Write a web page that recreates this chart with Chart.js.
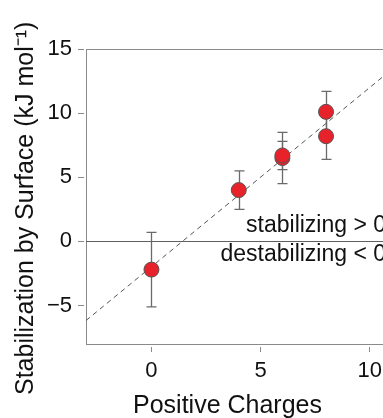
<!DOCTYPE html>
<html>
<head>
<meta charset="utf-8">
<script src="https://cdn.jsdelivr.net/npm/chart.js@4.4.1/dist/chart.umd.min.js"></script>
<style>
  html, body { margin: 0; padding: 0; background: #fff; overflow: hidden; }
  #wrap { width: 400px; height: 418px; }
</style>
</head>
<body>
<div id="wrap"><canvas id="stabChart" width="400" height="418"></canvas></div>
<script>
// Data
const chargeX = [0, 4, 6, 6, 8, 8];
const stabY = [-2.2, 4.0, 6.5, 6.7, 10.1, 8.2];
const stabErr = [2.9, 1.5, 2.0, 1.1, 1.6, 1.8];

// dashed linear fit, end points
const fitX = [-3, 11];
const fitY = [-6.17, 13.39];

const xTicks = [0, 5, 10];
const yTicks = [-5, 0, 5, 10, 15];

const FONT = '"Liberation Sans", Arial, Helvetica, sans-serif';
const axisGrey = '#8a8a8a';

// error bars, zero line, box top, titles and labels
const extrasPlugin = {
    id: 'extras',
    beforeDatasetsDraw(chart) {
        const { ctx, chartArea, scales: { x, y } } = chart;
        ctx.save();
        // zero line
        const y0 = Math.round(y.getPixelForValue(0)) + 0.5;
        ctx.strokeStyle = '#606060';
        ctx.lineWidth = 1;
        ctx.beginPath();
        ctx.moveTo(chartArea.left, y0);
        ctx.lineTo(chartArea.right, y0);
        ctx.stroke();
        // top of box
        ctx.strokeStyle = axisGrey;
        ctx.beginPath();
        ctx.moveTo(chartArea.left, chartArea.top + 0.5);
        ctx.lineTo(chartArea.right, chartArea.top + 0.5);
        ctx.stroke();
        // error bars
        ctx.strokeStyle = '#6a6a6a';
        ctx.lineWidth = 1.3;
        chargeX.forEach((cx, i) => {
            const px = Math.round(x.getPixelForValue(cx)) + 0.5;
            const top = y.getPixelForValue(stabY[i] + stabErr[i]);
            const bot = y.getPixelForValue(stabY[i] - stabErr[i]);
            ctx.beginPath();
            ctx.moveTo(px, top); ctx.lineTo(px, bot);
            ctx.moveTo(px - 5, top); ctx.lineTo(px + 5, top);
            ctx.moveTo(px - 5, bot); ctx.lineTo(px + 5, bot);
            ctx.stroke();
        });
        ctx.restore();
    },
    afterDraw(chart) {
        const { ctx, chartArea, scales: { x, y } } = chart;
        ctx.save();
        ctx.fillStyle = '#111';
        // region labels
        ctx.font = '23px ' + FONT;
        ctx.textAlign = 'right';
        ctx.textBaseline = 'alphabetic';
        const rx = x.getPixelForValue(10.75);
        ctx.fillText('stabilizing > 0', rx, y.getPixelForValue(0) - 9);
        ctx.fillText('destabilizing < 0', rx, y.getPixelForValue(0) + 20);
        // x title
        ctx.font = '25px ' + FONT;
        ctx.textAlign = 'left';
        ctx.fillText('Positive Charges', 133, 413);
        // y title
        ctx.translate(33, 395);
        ctx.rotate(-Math.PI / 2);
        ctx.fillText('Stabilization by Surface (kJ mol\u207B\u00B9)', 0, 0);
        ctx.restore();
    }
};

const ctx = document.getElementById('stabChart').getContext('2d');
new Chart(ctx, {
    type: 'scatter',
    data: {
        datasets: [
            {
                label: 'Stabilization',
                data: chargeX.map((cx, i) => ({ x: cx, y: stabY[i] })),
                backgroundColor: '#e8222a',
                borderColor: '#555',
                borderWidth: 1,
                pointRadius: 7.5,
                order: 1
            },
            {
                label: 'Fit',
                type: 'line',
                data: fitX.map((fx, i) => ({ x: fx, y: fitY[i] })),
                borderColor: '#555',
                borderWidth: 1,
                borderDash: [5, 4],
                pointRadius: 0,
                fill: false,
                order: 2
            }
        ]
    },
    options: {
        responsive: false,
        animation: false,
        layout: { padding: { left: 0, right: 6, top: 49, bottom: 0 } },
        plugins: {
            legend: { display: false },
            tooltip: { enabled: false }
        },
        scales: {
            x: {
                type: 'linear',
                min: -3,
                max: 11,
                afterBuildTicks: (s) => { s.ticks = xTicks.map(v => ({ value: v })); },
                afterFit: (s) => { s.height = 74; },
                border: { display: true, color: axisGrey, width: 1 },
                grid: {
                    display: true,
                    drawOnChartArea: false,
                    tickLength: 8,
                    tickColor: axisGrey,
                    tickBorderDash: [0, 2, 6, 20]
                },
                ticks: {
                    color: '#111',
                    font: { size: 22, family: FONT },
                    padding: 6,
                    maxRotation: 0
                }
            },
            y: {
                type: 'linear',
                min: -8,
                max: 15,
                afterBuildTicks: (s) => { s.ticks = yTicks.map(v => ({ value: v })); },
                afterFit: (s) => { s.width = 86; },
                border: { display: true, color: axisGrey, width: 1 },
                grid: {
                    display: true,
                    drawOnChartArea: false,
                    tickLength: 8,
                    tickColor: axisGrey,
                    tickBorderDash: [6, 20]
                },
                ticks: {
                    color: '#111',
                    font: { size: 22, family: FONT },
                    padding: 6,
                    callback: (v) => String(v).replace('-', '\u2212')
                }
            }
        }
    },
    plugins: [extrasPlugin]
});
</script>
</body>
</html>
